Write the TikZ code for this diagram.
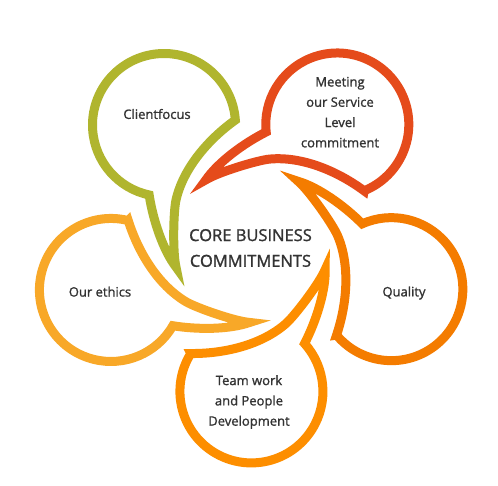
\documentclass[tikz,border=0pt]{standalone}
\usepackage{fontspec}
\setmainfont{Open Sans}
\newfontfamily\labfont{Open Sans}[BoldFont=Open Sans, BoldFeatures={FakeBold=1.3}]
\definecolor{cgreen}{RGB}{176,181,46}
\definecolor{cred}{RGB}{229,75,27}
\definecolor{cqual}{RGB}{244,124,0}
\definecolor{cteam}{RGB}{253,142,0}
\definecolor{ceth}{RGB}{248,168,40}
\definecolor{ctext}{RGB}{51,51,51}
\begin{document}
\begin{tikzpicture}[x=1pt,y=-1pt,
  bubble/.style={line width=9pt, line join=miter, miter limit=8},
  lab/.style={text=ctext, align=center, font=\labfont\bfseries\fontsize{13}{20.3}\selectfont, inner sep=0pt},
  core/.style={text=ctext, align=center, font=\labfont\bfseries\fontsize{16.5}{25.7}\selectfont, inner sep=0pt}]
\useasboundingbox[fill=white] (0,0) rectangle (498,485);
\coordinate (C) at (251,244);
\foreach \k/\col in {0/cgreen,1/cred,2/cqual,3/cteam,4/ceth}{
  \begin{scope}[rotate around={-72*\k:(C)}]
    \draw[bubble,draw=\col] (235.33,120.01) arc[start angle=-4,end angle=-258,radius=71.5]
      .. controls (153,220) and (163,250) .. (176,267)
      .. controls (172.5,252.4) and (173.4,211.6) .. (176,200)
      .. controls (183.3,168) and (208.6,139.1) .. cycle;
  \end{scope}
}
\node[lab] (client) at (157,114) {Clientfocus};
\node[lab] (meet) at (340,112.2) {Meeting\\our Service\\Level\\commitment};
\node[lab] (qual) at (404,293) {Quality};
\node[lab] (team) at (249,402) {Team work\\and People\\Development};
\node[lab] (eth) at (100,291.7) {Our ethics};
\node[core] (core) at (250.5,248) {CORE BUSINESS\\COMMITMENTS};
\end{tikzpicture}
\end{document}
